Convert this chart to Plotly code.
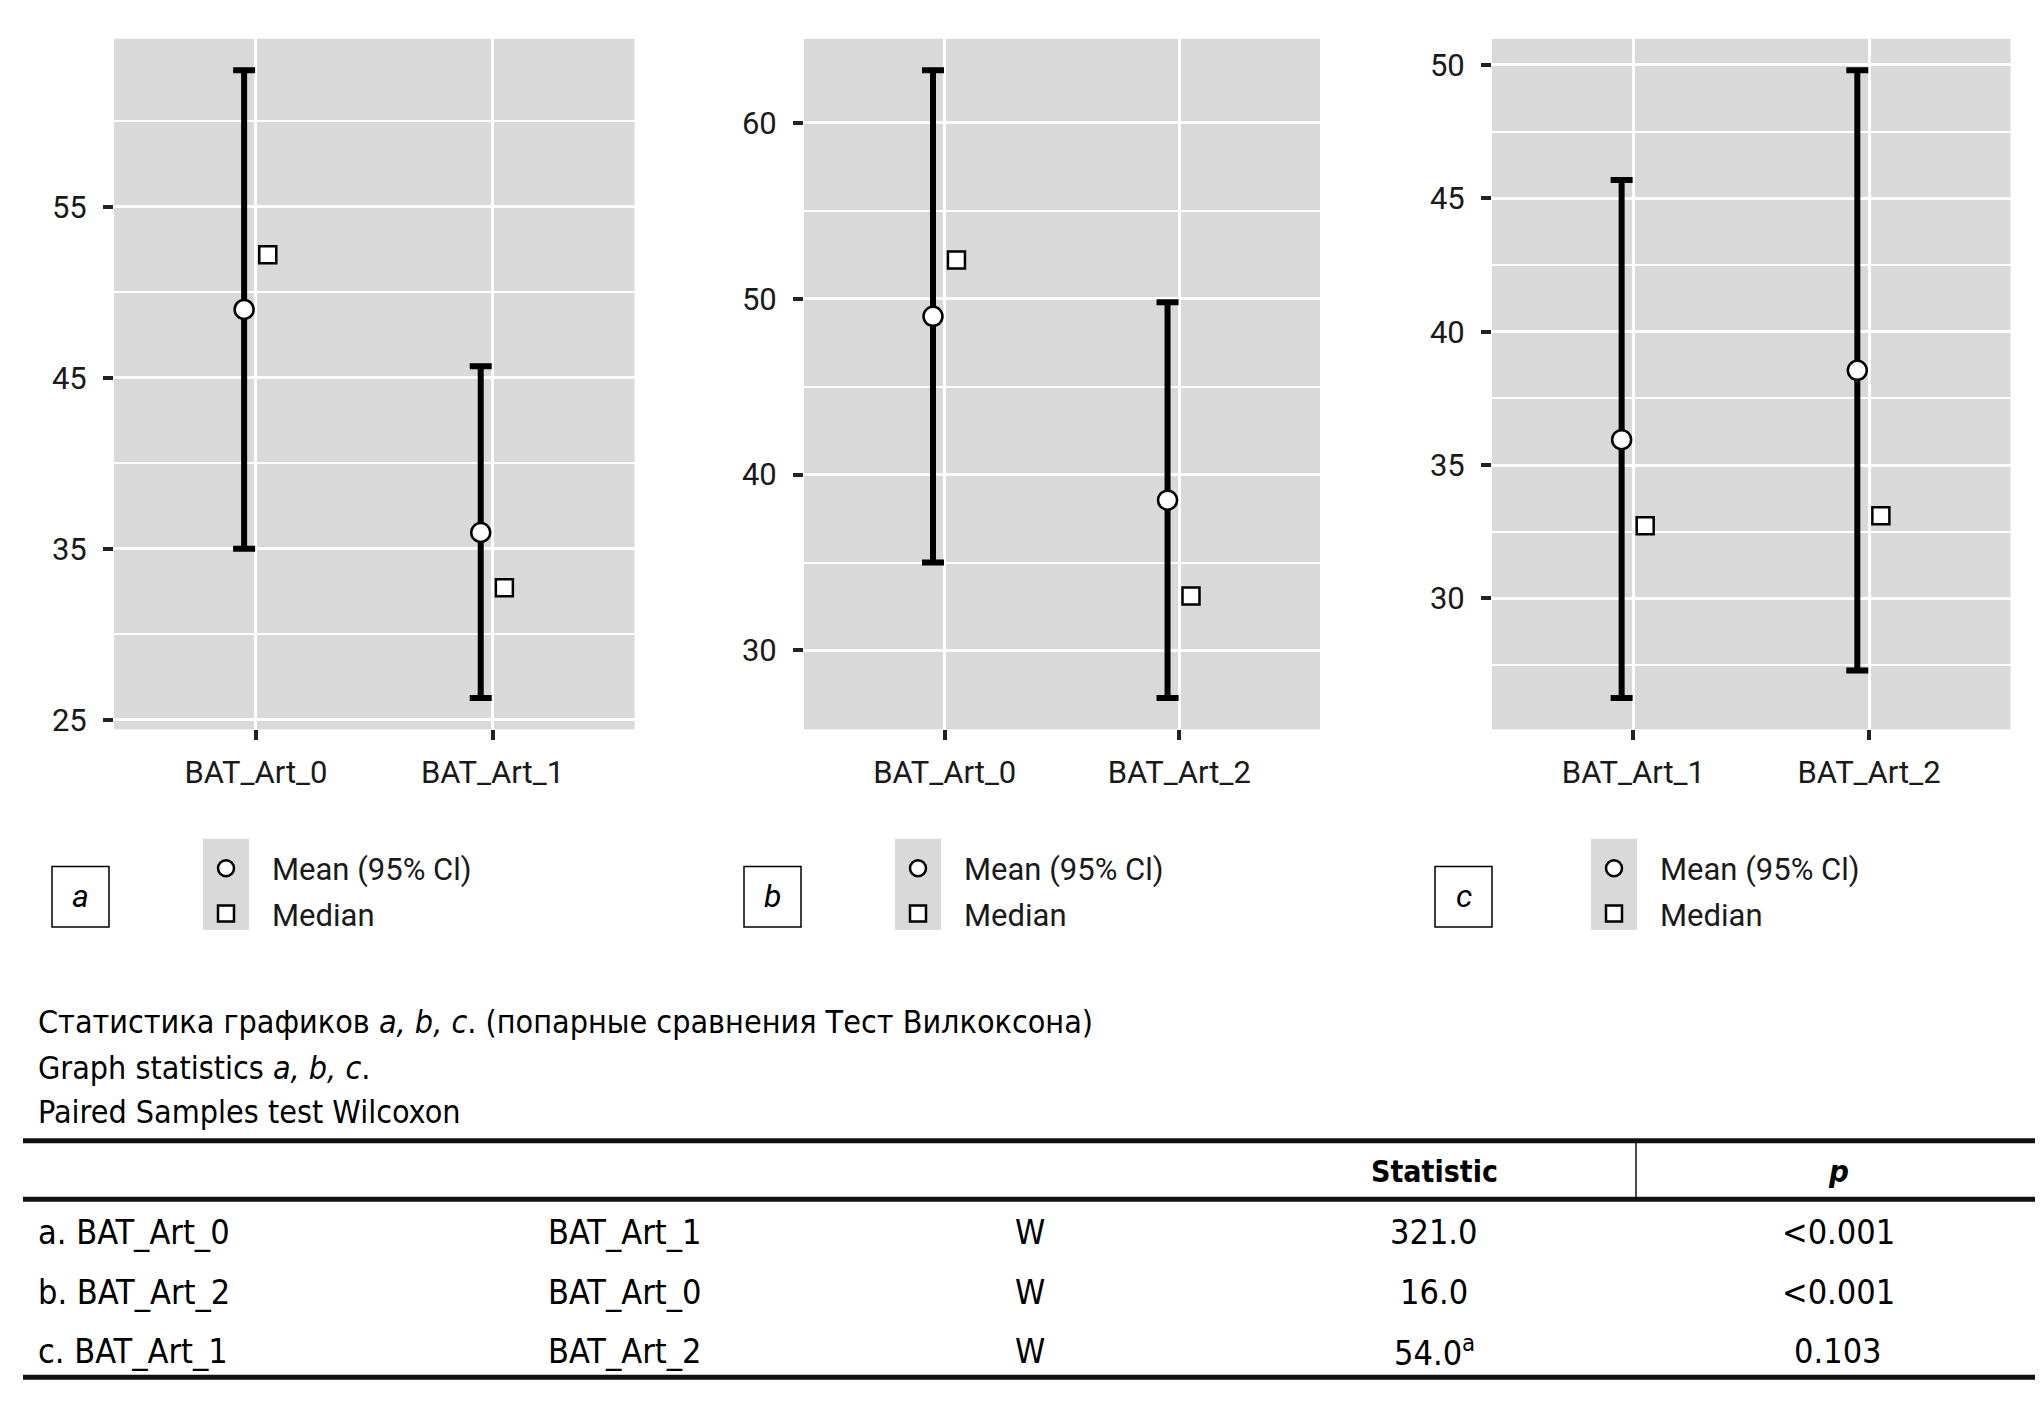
import plotly.graph_objects as go

# ---------------- data ----------------
categories = ["BAT_Art_0", "BAT_Art_1", "BAT_Art_2"]
mean_value = [49.0, 35.95, 38.55]
ci_lower = [35.0, 26.27, 27.3]
ci_upper = [63.0, 45.68, 49.8]
median_value = [52.2, 32.72, 33.1]

panel_letters = ["a", "b", "c"]
panel_groups = [["BAT_Art_0", "BAT_Art_1"],
                ["BAT_Art_0", "BAT_Art_2"],
                ["BAT_Art_1", "BAT_Art_2"]]
panel_tick0 = [25, 30, 30]
panel_dtick = [10, 10, 5]

legend_labels = ["Mean (95% Cl)", "Median"]

title_lines = [
    "Статистика графиков <i>a, b, c</i>. (попарные сравнения Тест Вилкоксона)",
    "Graph statistics <i>a, b, c</i>.",
    "Paired Samples test Wilcoxon",
]
table_header_stat = "<b>Statistic</b>"
table_header_p = "<b><i>p</i></b>"
table_first = ["a. BAT_Art_0", "b. BAT_Art_2", "c. BAT_Art_1"]
table_second = ["BAT_Art_1", "BAT_Art_0", "BAT_Art_2"]
table_test = ["W", "W", "W"]
table_statistic = ["321.0", "16.0", "54.0<sup>a</sup>"]
table_p = ["&lt;0.001", "&lt;0.001", "0.103"]

# ---------------- layout helpers ----------------
OFFX = 8  # page body margin (horizontal)
W, H = 2043 - OFFX, 1402
def px(x):
    return (x - OFFX) / W
def py(y):
    return 1 - y / H

CHART_FONT = "Roboto, DejaVu Sans, sans-serif"
TABLE_FONT = "Liberation Sans Narrow, DejaVu Sans Condensed, Roboto, sans-serif"
BG = "#d9d9d9"

panel_x = [(114, 634.5), (804, 1320), (1492, 2010.5)]
panel_y = (31, 726)
legend_sym_x = [226, 918, 1614]
legend_bg_x = [(203, 249), (895, 941), (1591, 1637)]
label_box_x = [(52, 109), (744, 801), (1435, 1492)]

fig = go.Figure()
shapes = []
annotations = []

dodge = 0.05
for i, groups in enumerate(panel_groups):
    ax = "" if i == 0 else str(i + 1)
    idx = [categories.index(g) for g in groups]
    pos = [1, 2]
    means = [mean_value[k] for k in idx]
    lows = [ci_lower[k] for k in idx]
    ups = [ci_upper[k] for k in idx]
    meds = [median_value[k] for k in idx]
    legend_name = "legend" if i == 0 else "legend" + str(i + 1)

    fig.add_trace(go.Scatter(
        x=[p - dodge for p in pos], y=means, mode="markers",
        name=legend_labels[0], legend=legend_name, legendgroup="mean%d" % i,
        marker=dict(symbol="circle", size=19, color="white",
                    line=dict(color="black", width=2.5)),
        error_y=dict(type="data", symmetric=False,
                     array=[u - m for u, m in zip(ups, means)],
                     arrayminus=[m - l for m, l in zip(means, lows)],
                     color="black", thickness=6, width=11),
        xaxis="x" + ax, yaxis="y" + ax, showlegend=True,
    ))
    fig.add_trace(go.Scatter(
        x=[p + dodge for p in pos], y=meds, mode="markers",
        name=legend_labels[1], legend=legend_name, legendgroup="med%d" % i,
        marker=dict(symbol="square", size=17, color="white",
                    line=dict(color="black", width=2.5)),
        xaxis="x" + ax, yaxis="y" + ax, showlegend=True,
    ))

    lo_all = min(lows + meds)
    hi_all = max(ups + meds)
    pad = 0.05 * (hi_all - lo_all)
    x0, x1 = panel_x[i]
    xaxis = dict(domain=[px(x0), px(x1)], range=[0.4, 2.6],
                 tickvals=pos, ticktext=groups, showgrid=True,
                 gridcolor="white", gridwidth=3, zeroline=False,
                 ticks="outside", ticklen=10, tickwidth=4, tickcolor="#222",
                 ticklabelstandoff=5,
                 tickfont=dict(family=CHART_FONT, size=31, color="#1a1a1a"),
                 anchor="y" + ax, fixedrange=True)
    yaxis = dict(domain=[py(panel_y[1]), py(panel_y[0])],
                 range=[lo_all - pad, hi_all + pad],
                 tick0=panel_tick0[i], dtick=panel_dtick[i],
                 showgrid=True, gridcolor="white", gridwidth=3,
                 minor=dict(dtick=panel_dtick[i] / 2, tick0=panel_tick0[i],
                            showgrid=True, gridcolor="white", gridwidth=2),
                 zeroline=False, ticks="outside", ticklen=10, tickwidth=4,
                 tickcolor="#222", ticklabelstandoff=10,
                 tickfont=dict(family=CHART_FONT, size=31, color="#1a1a1a"),
                 anchor="x" + ax, fixedrange=True)
    fig.update_layout(**{"xaxis" + ax: xaxis, "yaxis" + ax: yaxis})

    # legend
    fig.update_layout(**{legend_name: dict(
        x=px(legend_sym_x[i] - 46), y=py(839), xanchor="left", yanchor="top",
        bgcolor="rgba(0,0,0,0)", itemwidth=82, tracegroupgap=2,
        font=dict(family=CHART_FONT, size=31, color="#1a1a1a"),
        itemclick=False, itemdoubleclick=False)})
    lx0, lx1 = legend_bg_x[i]
    shapes.append(dict(type="rect", xref="paper", yref="paper",
                       x0=px(lx0), x1=px(lx1), y0=py(928), y1=py(836),
                       fillcolor=BG, line=dict(width=0), layer="below"))
    # panel label box
    bx0, bx1 = label_box_x[i]
    shapes.append(dict(type="rect", xref="paper", yref="paper",
                       x0=px(bx0), x1=px(bx1), y0=py(925), y1=py(864),
                       line=dict(color="black", width=1.5)))
    annotations.append(dict(text="<i>%s</i>" % panel_letters[i], xref="paper", yref="paper",
                            x=px((bx0 + bx1) / 2), y=py(894), xanchor="center", yanchor="middle",
                            showarrow=False, font=dict(family=CHART_FONT, size=32, color="black")))

# title lines
for t, yy in zip(title_lines, [1021, 1067, 1111]):
    annotations.append(dict(text=t, xref="paper", yref="paper", x=px(36), y=py(yy),
                            xanchor="left", yanchor="middle", showarrow=False,
                            font=dict(family=TABLE_FONT, size=32, color="black")))

# table rules
for yy in [1140, 1199, 1378]:
    shapes.append(dict(type="line", xref="paper", yref="paper",
                       x0=px(23), x1=px(2037), y0=py(yy), y1=py(yy),
                       line=dict(color="#111", width=5)))
shapes.append(dict(type="line", xref="paper", yref="paper",
                   x0=px(1636), x1=px(1636), y0=py(1140), y1=py(1199),
                   line=dict(color="#111", width=1.5)))

annotations.append(dict(text=table_header_stat, xref="paper", yref="paper", x=px(1434), y=py(1171),
                        xanchor="center", yanchor="middle", showarrow=False,
                        font=dict(family=TABLE_FONT, size=30, color="black")))
annotations.append(dict(text=table_header_p, xref="paper", yref="paper", x=px(1838), y=py(1171),
                        xanchor="center", yanchor="middle", showarrow=False,
                        font=dict(family=TABLE_FONT, size=31, color="black")))
row_y = [1232, 1292, 1352]
for r in range(3):
    f = dict(family=TABLE_FONT, size=34, color="black")
    annotations.append(dict(text=table_first[r], xref="paper", yref="paper", x=px(36), y=py(row_y[r]),
                            xanchor="left", yanchor="middle", showarrow=False, font=f))
    annotations.append(dict(text=table_second[r], xref="paper", yref="paper", x=px(546), y=py(row_y[r]),
                            xanchor="left", yanchor="middle", showarrow=False, font=f))
    annotations.append(dict(text=table_test[r], xref="paper", yref="paper", x=px(1030), y=py(row_y[r]),
                            xanchor="center", yanchor="middle", showarrow=False, font=f))
    annotations.append(dict(text=table_statistic[r], xref="paper", yref="paper", x=px(1434), y=py(row_y[r]),
                            xanchor="center", yanchor="middle", showarrow=False, font=f))
    annotations.append(dict(text=table_p[r], xref="paper", yref="paper", x=px(1838), y=py(row_y[r]),
                            xanchor="center", yanchor="middle", showarrow=False, font=f))

fig.update_layout(
    width=W, height=H, margin=dict(l=0, r=0, t=0, b=0),
    paper_bgcolor="white", plot_bgcolor=BG,
    shapes=shapes, annotations=annotations,
    font=dict(family=CHART_FONT, color="#1a1a1a"),
)

fig.write_html("out.html", config={"displayModeBar": False})
